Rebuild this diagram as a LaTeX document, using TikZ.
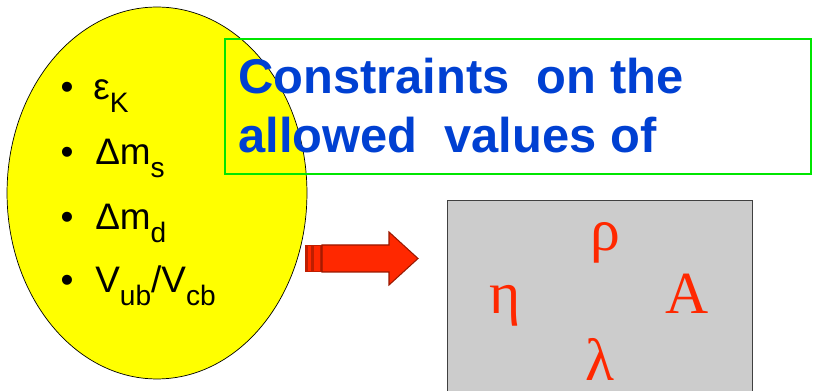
\documentclass[tikz,border=0pt]{standalone}
\usepackage{fontspec}
\setmainfont{Liberation Sans}
\newfontfamily\greekserif{Liberation Serif}
\usetikzlibrary{positioning,shapes.geometric}
\definecolor{obsyellow}{RGB}{255,255,0}
\definecolor{framegreen}{RGB}{0,230,0}
\definecolor{titleblue}{RGB}{0,64,210}
\definecolor{paramred}{RGB}{255,40,0}
\definecolor{arrowred}{RGB}{255,40,0}
\definecolor{boxgray}{RGB}{204,204,204}
\newcommand{\lowsub}[1]{\raisebox{-7pt}{\fontsize{16}{16}\selectfont #1}}

\begin{document}
\begin{tikzpicture}[x=0.02cm,y=-0.02cm,
 obs/.style={font=\fontsize{21}{21}\selectfont,anchor=base west,inner sep=0},
 dot/.style={font=\fontsize{21}{21}\selectfont,anchor=base,inner sep=0},
 param/.style={text=paramred,font=\greekserif\fontsize{34}{34}\selectfont,inner sep=0}]
\useasboundingbox (0,0) rectangle (814,391);
% measured quantities
\node[ellipse,draw=black,fill=obsyellow,minimum width=6cm,minimum height=7.44cm,inner sep=0] (cloud) at (157,193) {};
\node[dot] (b1) at (67,100) {•};
\node[dot] (b2) at (67,165) {•};
\node[dot] (b3) at (67,230) {•};
\node[dot] (b4) at (67,293) {•};
\node[obs] (epsK) at (93,100) {ε\lowsub{K}};
\node[obs] (dms) at (95,165) {Δm\lowsub{s}};
\node[obs] (dmd) at (95,230) {Δm\lowsub{d}};
\node[obs] (ratio) at (95,293) {V\lowsub{ub}/V\lowsub{cb}};
% title frame
\node[draw=framegreen,line width=1.6pt,minimum width=11.72cm,minimum height=2.7cm,inner sep=0] (frame) at (518,106.5) {};
\node[anchor=base west,inner sep=0,align=left,text=titleblue,
 font=\bfseries\fontsize{27.8}{34}\selectfont] (title) at (238,153)
 {Constraints\ \ on the\\allowed\ \ values of};
% arrow
\fill[arrowred!75!black] (305,245) rectangle (322,272);
\fill[arrowred] (308,246) rectangle (311,271);
\fill[arrowred] (314,246) rectangle (320,271);
\filldraw[fill=arrowred,draw=arrowred!60!black,line width=0.6pt]
 (322,245) -- (389,245) -- (389,232) -- (418,258.5) -- (389,285) -- (389,272) -- (322,272) -- cycle;
% parameter box
\node[draw=black!75,fill=boxgray,line width=0.7pt,minimum width=6.1cm,minimum height=4.1cm,inner sep=0,anchor=north west] (params) at (447,200) {};
\node[param] (rho) at (605,243) {ρ};
\node[param] (eta) at (505,306) {η};
\node[param] (bigA) at (687,294) {A};
\node[param] (lam) at (600,359) {λ};
\end{tikzpicture}
\end{document}
